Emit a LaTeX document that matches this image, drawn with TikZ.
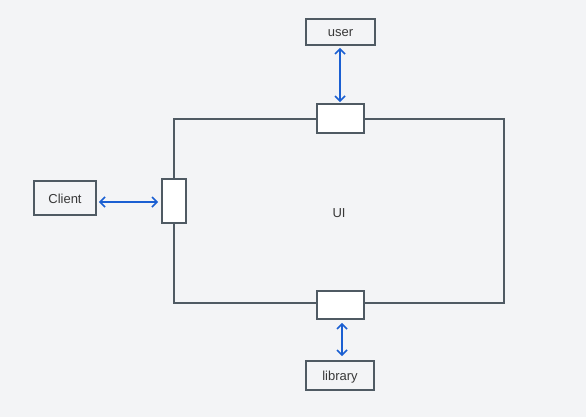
\documentclass[tikz,border=0pt]{standalone}
\usepackage{fontspec}
\setmainfont{Liberation Sans}
\usetikzlibrary{arrows.meta,positioning}
\definecolor{edgegray}{HTML}{4F5A63}
\definecolor{linkblue}{HTML}{1A5FD2}
\definecolor{paper}{HTML}{F3F4F6}

\begin{document}
\begin{tikzpicture}[x=1pt,y=-1pt]
  \tikzset{box/.style={draw=edgegray, line width=1.6pt, fill=paper, inner sep=0pt, font=\fontsize{13}{15}\selectfont, text=black!78, text height=10pt, text depth=0pt},
           port/.style={draw=edgegray, line width=1.6pt, fill=white, inner sep=0pt},
           link/.style={draw=linkblue, line width=1.7pt, {Straight Barb[length=5pt,width=10pt]}-{Straight Barb[length=5pt,width=10pt]}}}
    \fill[paper] (0,0) rectangle (586,417);
    \useasboundingbox (0,0) rectangle (586,417);

    \node[box, minimum width=330, minimum height=184, text height=13.4pt] (ui) at (339,211) {UI};

    \node[port, minimum width=47, minimum height=29] (tport) at (340.5,118.5) {};
    \node[port, minimum width=24, minimum height=44] (lport) at (174,201) {};
    \node[port, minimum width=47, minimum height=28] (bport) at (340.5,305) {};

    \node[box, minimum width=69, minimum height=26] (user) at (340.5,32) {user};
    \node[box, minimum width=62, minimum height=34] (client) at (65,198) {Client};
    \node[box, minimum width=68, minimum height=29] (library) at (340,375.5) {library};

    \draw[link, shorten <=2pt, shorten >=1pt] ([xshift=-0.5pt]user.south) -- ([xshift=-0.5pt]user.south |- tport.north);
    \draw[link, shorten <=2pt, shorten >=3pt] (client.east |- 0,202) -- (lport.west |- 0,202);
    \draw[link, shorten <=3pt, shorten >=4pt] ([xshift=1.5pt]bport.south) -- ([xshift=1.5pt]bport.south |- library.north);
\end{tikzpicture}
\end{document}
